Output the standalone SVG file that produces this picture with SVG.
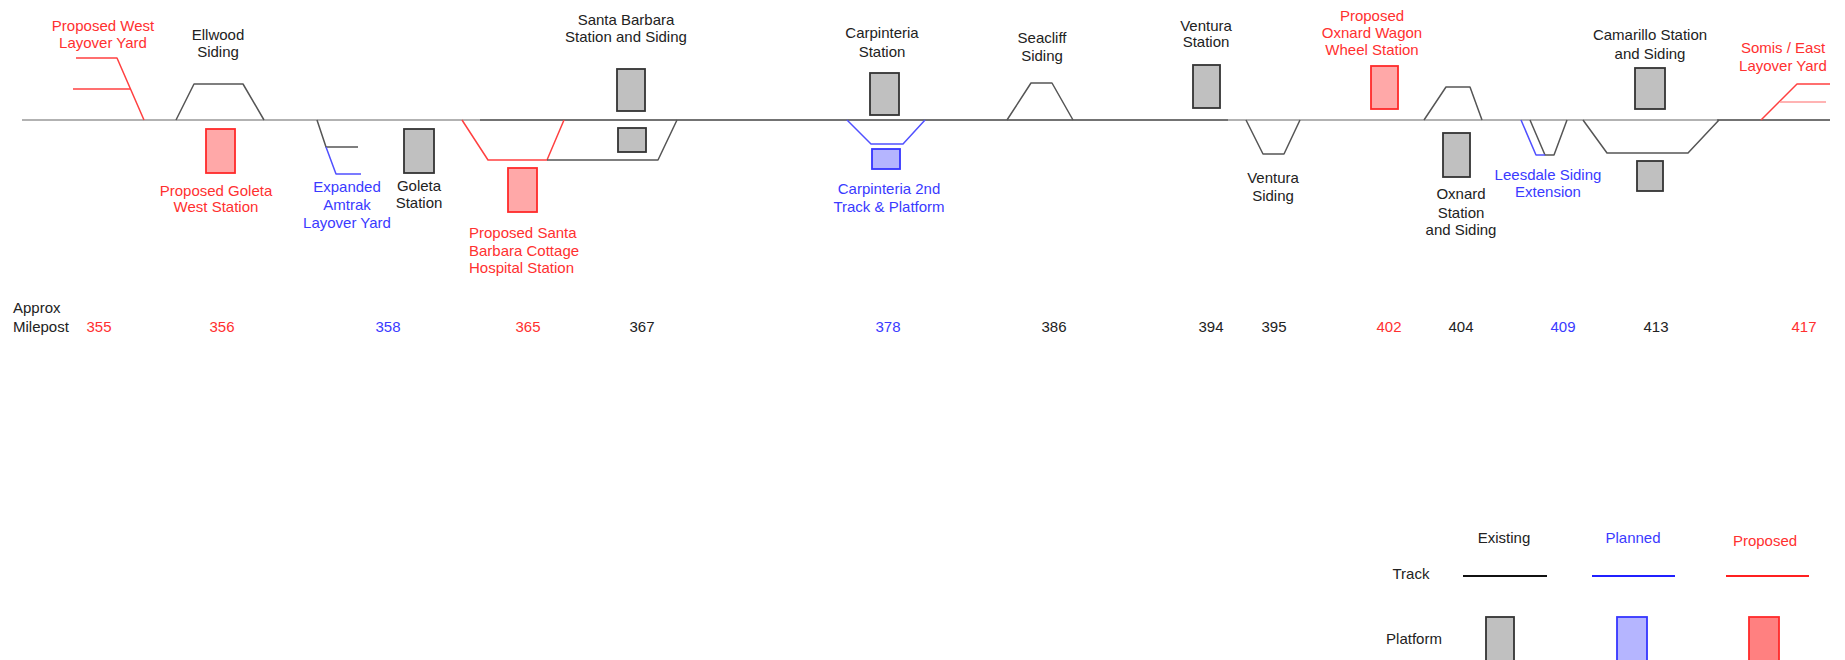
<svg xmlns="http://www.w3.org/2000/svg" width="1845" height="660" viewBox="0 0 1845 660">
  <style>
    text { font-family: "Liberation Sans", Arial, sans-serif; font-size: 15px; text-anchor: middle; }
    .ex { fill: #222; }
    .pl { fill: #3a3aff; }
    .pr { fill: #ff3030; }
    .lbl { text-anchor: start; }
    .trk { fill: none; stroke-width: 1.5; stroke-linejoin: round; }
    .t-ex { stroke: #555; }
    .t-lt { stroke: #999; }
    .t-dk { stroke: #444; }
    .t-pl { stroke: #5050ff; }
    .t-pr { stroke: #ff4040; }
    .plat-ex { fill: #c0c0c0; stroke: #333; stroke-width: 1.8; }
    .plat-pl { fill: #b5b5ff; stroke: #3535ff; stroke-width: 1.8; }
    .plat-pr { fill: #ffa8a8; stroke: #ff2a2a; stroke-width: 1.8; }
  </style>

  <!-- main line -->
  <g id="connectors">
    <line class="trk t-lt" x1="22" y1="120" x2="480" y2="120"/>
    <line class="trk t-dk" x1="480" y1="120" x2="1228" y2="120"/>
    <line class="trk t-lt" x1="1228" y1="120" x2="1717" y2="120"/>
    <line class="trk t-dk" x1="1717" y1="120" x2="1830" y2="120"/>
  </g>

  <g id="west-layover-yard">
    <polyline class="trk t-pr" points="76,58 117,58 144,120"/>
    <line class="trk t-pr" x1="73" y1="89" x2="130" y2="89"/>
    <text class="pr" x="103" y="31">Proposed West</text>
    <text class="pr" x="103" y="48">Layover Yard</text>
  </g>

  <g id="ellwood-siding">
    <polyline class="trk t-ex" points="176,120 194,84 243,84 264,120"/>
    <text class="ex" x="218" y="40">Ellwood</text>
    <text class="ex" x="218" y="57">Siding</text>
  </g>

  <g id="goleta-west-station">
    <rect class="plat-pr" x="206" y="129" width="29" height="44"/>
    <text class="pr" x="216" y="196">Proposed Goleta</text>
    <text class="pr" x="216" y="212">West Station</text>
  </g>

  <g id="amtrak-layover-yard">
    <polyline class="trk t-ex" points="317,120 326,147 358,147"/>
    <polyline class="trk t-pl" points="326,147 336,174 361,174"/>
    <text class="pl" x="347" y="192">Expanded</text>
    <text class="pl" x="347" y="210">Amtrak</text>
    <text class="pl" x="347" y="228">Layover Yard</text>
  </g>

  <g id="goleta-station">
    <rect class="plat-ex" x="404" y="129" width="30" height="44"/>
    <text class="ex" x="419" y="191">Goleta</text>
    <text class="ex" x="419" y="208">Station</text>
  </g>

  <g id="cottage-hospital-station">
    <polyline class="trk t-pr" points="462,120 488,160 547,160 564,120"/>
    <rect class="plat-pr" x="508" y="168" width="29" height="44"/>
    <text class="pr lbl" x="469" y="238">Proposed Santa</text>
    <text class="pr lbl" x="469" y="256">Barbara Cottage</text>
    <text class="pr lbl" x="469" y="273">Hospital Station</text>
  </g>

  <g id="santa-barbara-station">
    <polyline class="trk t-ex" points="547,160 658,160 677,120"/>
    <rect class="plat-ex" x="617" y="69" width="28" height="42"/>
    <rect class="plat-ex" x="618" y="128" width="28" height="24"/>
    <text class="ex" x="626" y="25">Santa Barbara</text>
    <text class="ex" x="626" y="42">Station and Siding</text>
  </g>

  <g id="carpinteria-station">
    <rect class="plat-ex" x="870" y="73" width="29" height="42"/>
    <text class="ex" x="882" y="38">Carpinteria</text>
    <text class="ex" x="882" y="57">Station</text>
  </g>

  <g id="carpinteria-2nd-track">
    <polyline class="trk t-pl" points="847,120 871,144 903,144 925,120"/>
    <rect class="plat-pl" x="872" y="149" width="28" height="20"/>
    <text class="pl" x="889" y="194">Carpinteria 2nd</text>
    <text class="pl" x="889" y="212">Track &amp; Platform</text>
  </g>

  <g id="seacliff-siding">
    <polyline class="trk t-ex" points="1007,120 1031,83 1052,83 1073,120"/>
    <text class="ex" x="1042" y="43">Seacliff</text>
    <text class="ex" x="1042" y="61">Siding</text>
  </g>

  <g id="ventura-station">
    <rect class="plat-ex" x="1193" y="65" width="27" height="43"/>
    <text class="ex" x="1206" y="31">Ventura</text>
    <text class="ex" x="1206" y="47">Station</text>
  </g>

  <g id="ventura-siding">
    <polyline class="trk t-ex" points="1246,120 1263,154 1284,154 1300,120"/>
    <text class="ex" x="1273" y="183">Ventura</text>
    <text class="ex" x="1273" y="201">Siding</text>
  </g>

  <g id="wagon-wheel-station">
    <rect class="plat-pr" x="1371" y="66" width="27" height="43"/>
    <text class="pr" x="1372" y="21">Proposed</text>
    <text class="pr" x="1372" y="38">Oxnard Wagon</text>
    <text class="pr" x="1372" y="55">Wheel Station</text>
  </g>

  <g id="oxnard-station">
    <polyline class="trk t-ex" points="1424,120 1446,87 1470,87 1482,120"/>
    <rect class="plat-ex" x="1443" y="133" width="27" height="44"/>
    <text class="ex" x="1461" y="199">Oxnard</text>
    <text class="ex" x="1461" y="218">Station</text>
    <text class="ex" x="1461" y="235">and Siding</text>
  </g>

  <g id="leesdale-siding">
    <polyline class="trk t-ex" points="1530,120 1545,155 1554,155 1567,120"/>
    <polyline class="trk t-pl" points="1521,120 1536,155 1545,155"/>
    <text class="pl" x="1548" y="180">Leesdale Siding</text>
    <text class="pl" x="1548" y="197">Extension</text>
  </g>

  <g id="camarillo-station">
    <polyline class="trk t-ex" points="1583,120 1607,153 1688,153 1719,120"/>
    <rect class="plat-ex" x="1635" y="68" width="30" height="41"/>
    <rect class="plat-ex" x="1637" y="161" width="26" height="30"/>
    <text class="ex" x="1650" y="40">Camarillo Station</text>
    <text class="ex" x="1650" y="59">and Siding</text>
  </g>

  <g id="east-layover-yard">
    <polyline class="trk t-pr" points="1761,120 1797,84 1830,84"/>
    <line class="trk" stroke="#ff9a9a" x1="1780" y1="102" x2="1826" y2="102"/>
    <text class="pr" x="1783" y="53">Somis / East</text>
    <text class="pr" x="1783" y="71">Layover Yard</text>
  </g>

  <g id="mileposts">
    <text class="ex lbl" x="13" y="313">Approx</text>
    <text class="ex lbl" x="13" y="332">Milepost</text>
    <text class="pr" x="99" y="332">355</text>
    <text class="pr" x="222" y="332">356</text>
    <text class="pl" x="388" y="332">358</text>
    <text class="pr" x="528" y="332">365</text>
    <text class="ex" x="642" y="332">367</text>
    <text class="pl" x="888" y="332">378</text>
    <text class="ex" x="1054" y="332">386</text>
    <text class="ex" x="1211" y="332">394</text>
    <text class="ex" x="1274" y="332">395</text>
    <text class="pr" x="1389" y="332">402</text>
    <text class="ex" x="1461" y="332">404</text>
    <text class="pl" x="1563" y="332">409</text>
    <text class="ex" x="1656" y="332">413</text>
    <text class="pr" x="1804" y="332">417</text>
  </g>

  <g id="legend">
    <text class="ex" x="1504" y="543">Existing</text>
    <text class="pl" x="1633" y="543">Planned</text>
    <text class="pr" x="1765" y="546">Proposed</text>
    <text class="ex" x="1411" y="579">Track</text>
    <line x1="1463" y1="576" x2="1547" y2="576" stroke="#111" stroke-width="1.8"/>
    <line x1="1592" y1="576" x2="1675" y2="576" stroke="#2020ff" stroke-width="1.8"/>
    <line x1="1726" y1="576" x2="1809" y2="576" stroke="#ff2020" stroke-width="1.8"/>
    <text class="ex" x="1414" y="644">Platform</text>
    <rect class="plat-ex" x="1486" y="617" width="28" height="46"/>
    <rect class="plat-pl" x="1617" y="617" width="30" height="46"/>
    <rect x="1749" y="617" width="30" height="46" fill="#ff8080" stroke="#ff2a2a" stroke-width="1.8"/>
  </g>
</svg>
